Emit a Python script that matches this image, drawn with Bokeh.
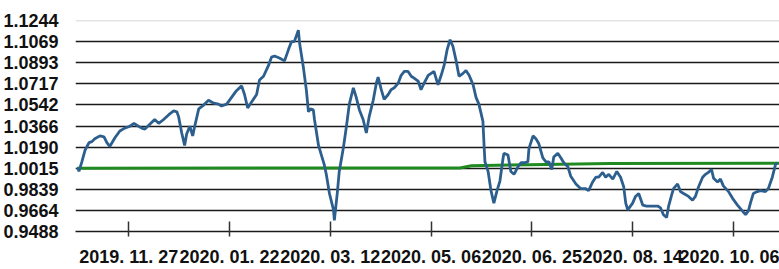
from bokeh.plotting import figure
from bokeh.models import FixedTicker, Span, Range1d, PrintfTickFormatter
from bokeh.embed import file_html
from bokeh.resources import INLINE

# trading-day position and fund value (blue)
day = [0.3, 0.7, 1.7, 2.8, 4.2, 5.2, 6.2, 8.0, 9.4, 10.4, 11.4, 13.2, 14.9, 16.6, 18.4, 19.8,
       20.8, 22.5, 23.6, 25.3, 27.0, 28.4, 30.1, 31.9, 33.6, 34.7, 35.3, 36.4, 37.4, 38.1,
       39.2, 40.2, 40.9, 42.3, 44.0, 45.7, 47.5, 49.2, 50.2, 52.0, 53.7, 55.4, 57.2, 58.2,
       59.3, 60.6, 62.4, 63.4, 64.8, 66.5, 67.6, 68.6, 70.3, 72.1, 73.5, 74.5, 75.5, 76.9,
       77.3, 78.7, 79.7, 80.4, 81.1, 82.1, 82.5, 83.9, 84.9, 85.9, 86.6, 87.7, 89.1, 89.4,
       90.4, 91.1, 92.5, 93.6, 94.6, 96.0, 97.0, 98.1, 99.4, 100.5, 101.5, 102.9, 104.0,
       104.6, 105.7, 106.7, 108.1, 109.1, 110.2, 111.6, 112.6, 113.7, 115.0, 116.1, 117.1,
       118.5, 119.5, 120.6, 122.0, 123.0, 124.0, 125.4, 126.5, 127.5, 128.6, 129.6, 130.6,
       131.7, 132.7, 134.1, 135.1, 136.2, 137.6, 138.6, 139.6, 141.0, 141.4, 141.7, 142.8,
       143.8, 144.8, 145.9, 146.9, 148.0, 148.3, 149.7, 150.7, 151.8, 153.2, 154.2, 155.2,
       156.6, 157.0, 158.4, 159.4, 160.4, 161.8, 162.9, 163.9, 164.9, 165.6, 167.0, 168.1,
       169.1, 170.5, 171.5, 173.3, 175.0, 176.7, 177.7, 179.1, 180.2, 181.2, 182.6, 183.6,
       184.7, 186.1, 187.5, 188.8, 189.9, 190.6, 191.3, 193.0, 194.0, 195.1, 196.5, 197.8,
       199.9, 201.7, 202.7, 203.7, 204.8, 205.5, 206.5, 207.2, 208.6, 209.6, 210.7, 212.4,
       213.8, 214.8, 215.9, 217.3, 218.3, 219.3, 220.4, 221.1, 222.5, 223.5, 224.5, 226.3,
       227.7, 229.4, 231.1, 232.2, 233.2, 233.9, 234.9, 236.3, 237.4, 239.1, 240.1, 241.5,
       242.6, 243.3]
nav = [1.0020, 0.9988, 1.0068, 1.0164, 1.0228, 1.0236, 1.0260, 1.0284, 1.0276, 1.0228, 1.0196,
       1.0268, 1.0324, 1.0348, 1.0364, 1.0388, 1.0372, 1.0348, 1.0340, 1.0380, 1.0420, 1.0388,
       1.0420, 1.0460, 1.0492, 1.0484, 1.0444, 1.0308, 1.0204, 1.0300, 1.0364, 1.0284, 1.0364,
       1.0508, 1.0540, 1.0580, 1.0556, 1.0548, 1.0532, 1.0548, 1.0604, 1.0660, 1.0700, 1.0628,
       1.0516, 1.0564, 1.0628, 1.0748, 1.0780, 1.0868, 1.0940, 1.0948, 1.0932, 1.0908, 1.1004,
       1.1068, 1.1068, 1.1164, 1.1060, 1.0844, 1.0660, 1.0484, 1.0508, 1.0500, 1.0420, 1.0204,
       1.0124, 1.0044, 0.9964, 0.9804, 0.9668, 0.9580, 0.9804, 0.9988, 1.0180, 1.0364, 1.0548,
       1.0684, 1.0604, 1.0500, 1.0420, 1.0308, 1.0444, 1.0580, 1.0724, 1.0772, 1.0668, 1.0588,
       1.0628, 1.0668, 1.0684, 1.0724, 1.0788, 1.0820, 1.0820, 1.0780, 1.0764, 1.0740, 1.0668,
       1.0724, 1.0788, 1.0804, 1.0820, 1.0708, 1.0788, 1.0868, 1.1004, 1.1084, 1.1028, 1.0908,
       1.0780, 1.0804, 1.0828, 1.0788, 1.0708, 1.0604, 1.0548, 1.0404, 1.0204, 1.0068, 0.9988,
       0.9828, 0.9724, 0.9828, 0.9908, 1.0100, 1.0140, 1.0124, 0.9988, 0.9964, 1.0028, 1.0060,
       1.0060, 1.0068, 1.0180, 1.0284, 1.0260, 1.0220, 1.0100, 1.0068, 1.0068, 1.0004, 1.0108,
       1.0140, 1.0100, 1.0060, 1.0028, 0.9948, 0.9884, 0.9844, 0.9844, 0.9828, 0.9900, 0.9940,
       0.9940, 0.9980, 0.9940, 0.9964, 0.9924, 0.9988, 0.9940, 0.9860, 0.9724, 0.9668, 0.9724,
       0.9780, 0.9804, 0.9708, 0.9700, 0.9700, 0.9700, 0.9684, 0.9628, 0.9604, 0.9700, 0.9788,
       0.9844, 0.9884, 0.9820, 0.9804, 0.9780, 0.9748, 0.9780, 0.9860, 0.9940, 0.9964, 0.9980,
       1.0004, 0.9932, 0.9900, 0.9924, 0.9868, 0.9820, 0.9764, 0.9708, 0.9660, 0.9628, 0.9660,
       0.9724, 0.9804, 0.9820, 0.9828, 0.9820, 0.9844, 0.9940, 1.0044, 1.0060]

# benchmark (green)
bench_day = [0, 133, 137, 157, 185, 244]
bench = [1.0015, 1.0017, 1.0035, 1.0044, 1.0054, 1.0056]

y_ticks = [0.9488, 0.9664, 0.9839, 1.0015, 1.0190, 1.0366, 1.0542, 1.0717, 1.0893, 1.1069, 1.1244]
x_tick_days = [18, 53, 88, 123, 158, 193, 228]
x_tick_labels = ["2019. 11. 27", "2020. 01. 22", "2020. 03. 12", "2020. 05. 06",
                 "2020. 06. 25", "2020. 08. 14", "2020. 10. 06"]

FONT = "Liberation Sans"

p = figure(width=779, height=269, output_backend="svg", toolbar_location=None,
           x_range=Range1d(-0.5, 244), y_range=Range1d(y_ticks[0], y_ticks[-1]),
           min_border_left=74, min_border_right=0, min_border_top=20, min_border_bottom=30)
p.outline_line_color = None
p.background_fill_color = "white"
p.border_fill_color = "white"

# grid
p.xgrid.visible = False
p.ygrid.ticker = FixedTicker(ticks=y_ticks[:-1])
p.ygrid.grid_line_color = "#1a1a1a"
p.ygrid.grid_line_width = 1.5
p.add_layout(Span(location=y_ticks[-1], dimension="width", line_color="#c8c8c8", line_width=1.5))

# y axis
p.yaxis.ticker = FixedTicker(ticks=y_ticks)
p.yaxis.formatter = PrintfTickFormatter(format="%.4f")
p.yaxis.axis_line_color = None
p.yaxis.major_tick_line_color = None
p.yaxis.minor_tick_line_color = None
p.yaxis.major_label_text_font = FONT
p.yaxis.major_label_text_font_style = "bold"
p.yaxis.major_label_text_font_size = "18px"
p.yaxis.major_label_text_color = "#111111"
p.yaxis.major_label_standoff = 11

# x axis
p.xaxis.ticker = FixedTicker(ticks=x_tick_days)
p.xaxis.major_label_overrides = dict(zip(x_tick_days, x_tick_labels))
p.xaxis.axis_line_color = "#1a1a1a"
p.xaxis.axis_line_width = 1.5
p.xaxis.major_tick_in = 10
p.xaxis.major_tick_out = 5
p.xaxis.major_tick_line_color = "#333333"
p.xaxis.major_tick_line_width = 1.5
p.xaxis.minor_tick_line_color = None
p.xaxis.major_label_text_font = FONT
p.xaxis.major_label_text_font_style = "bold"
p.xaxis.major_label_text_font_size = "18px"
p.xaxis.major_label_text_line_height = 0.8
p.xaxis.major_label_text_color = "#111111"
p.xaxis.major_label_standoff = 10

p.line(bench_day, bench, line_color="#1f8a1f", line_width=3)
p.line(day, nav, line_color="#2d5f8e", line_width=2.8)

open("out.html", "w").write(file_html(p, INLINE))
